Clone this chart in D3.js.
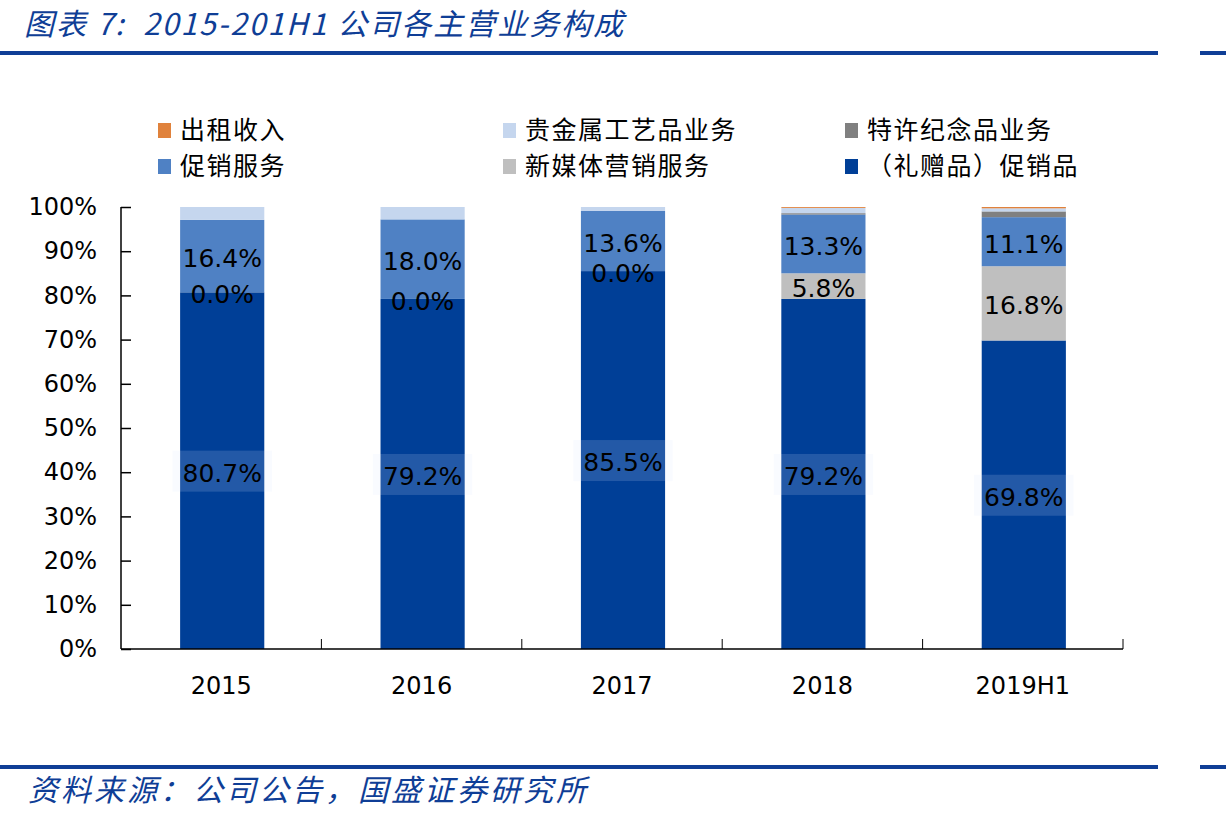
<!DOCTYPE html>
<html>
<head>
<meta charset="utf-8">
<script src="https://cdn.jsdelivr.net/npm/d3@7"></script>
<style>
  body { margin: 0; background: #fff; }
  svg { display: block; }
</style>
</head>
<body>
<div id="chart"></div>
<script>
// categories and series (percent of revenue)
const years = ["2015", "2016", "2017", "2018", "2019H1"];
const giftPromo = [80.7, 79.2, 85.5, 79.2, 69.8];   // （礼赠品）促销品
const newMedia = [0.0, 0.0, 0.0, 5.8, 16.8];        // 新媒体营销服务
const promoService = [16.4, 18.0, 13.6, 13.3, 11.1]; // 促销服务
const licensed = [0, 0, 0, 0.3, 1.3];               // 特许纪念品业务
const metalCraft = [2.9, 2.8, 0.9, 1.2, 0.7];       // 贵金属工艺品业务
const rental = [0, 0, 0, 0.2, 0.3];                 // 出租收入
const yTicks = [0, 10, 20, 30, 40, 50, 60, 70, 80, 90, 100];

// stack order bottom -> top
const seriesList = [
  { key: "gift", name: "（礼赠品）促销品", values: giftPromo, color: "#003F97", label: true, box: true },
  { key: "media", name: "新媒体营销服务", values: newMedia, color: "#BFBFBF", label: true },
  { key: "promo", name: "促销服务", values: promoService, color: "#4F81C4", label: true },
  { key: "lic", name: "特许纪念品业务", values: licensed, color: "#808080" },
  { key: "metal", name: "贵金属工艺品业务", values: metalCraft, color: "#C5D6EE" },
  { key: "rent", name: "出租收入", values: rental, color: "#E0823C" }
];
// legend order as in the picture
const legendOrder = ["rent", "metal", "lic", "promo", "media", "gift"];

const W = 1226, H = 821;
const svg = d3.select("#chart").append("svg")
  .attr("width", W).attr("height", H);

const blue = "#0F3E96";

// header / footer
svg.append("text")
  .attr("x", 24).attr("y", 35)
  .attr("fill", blue)
  .style("font-family", "'Noto Sans CJK SC'")
  .style("font-style", "italic")
  .style("font-size", "30px")
  .style("letter-spacing", "2px")
  .text("图表 7:\u00a0\u00a02015-201H1 公司各主营业务构成");

[53, 767].forEach(y => {
  svg.append("rect").attr("x", 0).attr("y", y - 2).attr("width", 1158).attr("height", 4).attr("fill", blue);
  svg.append("rect").attr("x", 1200).attr("y", y - 2).attr("width", 26).attr("height", 4).attr("fill", blue);
});

svg.append("text")
  .attr("x", 28).attr("y", 801)
  .attr("fill", blue)
  .style("font-family", "'Noto Sans CJK SC'")
  .style("font-style", "italic")
  .style("font-size", "30px")
  .style("letter-spacing", "3px")
  .text("资料来源：公司公告，国盛证券研究所");

// scales
const x = d3.scaleBand().domain(years).range([121, 1123]).padding(0);
const y = d3.scaleLinear().domain([0, 100]).range([649, 207]);
const barW = x.bandwidth() * 0.42;

// stacked data
const table = years.map((yr, i) => {
  const row = { year: yr };
  seriesList.forEach(s => { row[s.key] = s.values[i]; });
  return row;
});
const stacked = d3.stack().keys(seriesList.map(s => s.key))(table);

const g = svg.append("g");
stacked.forEach((layer, li) => {
  const s = seriesList[li];
  g.append("g").selectAll("rect")
    .data(layer)
    .join("rect")
    .attr("x", d => x(d.data.year) + x.bandwidth() / 2 - barW / 2 + 1)
    .attr("y", d => y(d[1]))
    .attr("width", barW)
    .attr("height", d => y(d[0]) - y(d[1]))
    .attr("fill", s.color);
});

// axes
const yAxis = d3.axisLeft(y).tickValues(yTicks).tickSize(-10).tickPadding(24)
  .tickFormat(d => d + "%");
const yg = svg.append("g").attr("transform", "translate(121,0)").call(yAxis);
yg.select(".domain").attr("d", "M0," + y(100) + "V" + y(0));

const xAxis = d3.axisBottom(x).tickSize(0).tickPadding(28);
const xg = svg.append("g").attr("transform", "translate(0,649)").call(xAxis);
xg.select(".domain").attr("d", "M121,0H1123");
const boundaries = years.map(v => x(v) + x.bandwidth());
xg.selectAll(".bnd").data(boundaries).join("line")
  .attr("class", "bnd")
  .attr("x1", d => d).attr("x2", d => d)
  .attr("y1", 0).attr("y2", -10)
  .attr("stroke", "#000");

[yg, xg].forEach(a => {
  a.selectAll(".domain").attr("stroke", "#000").attr("stroke-width", 1.5);
  a.selectAll(".tick line").attr("stroke", "#000").attr("stroke-width", 1.5);
  a.selectAll("text")
    .attr("fill", "#000")
    .style("font-family", "'DejaVu Sans'")
    .style("font-size", "24px");
});
xg.selectAll(".tick text").attr("dy", "0.71em");

// data labels
stacked.forEach((layer, li) => {
  const s = seriesList[li];
  if (!s.label) return;
  layer.forEach(d => {
    const cx = x(d.data.year) + x.bandwidth() / 2 + 1;
    const cy = y((d[0] + d[1]) / 2) + 2;
    const lg = svg.append("g");
    const t = lg.append("text")
      .attr("x", cx).attr("y", cy)
      .attr("text-anchor", "middle")
      .attr("dy", "0.36em")
      .attr("fill", "#000")
      .style("font-family", "'DejaVu Sans'")
      .style("font-size", "25px")
      .text(d3.format(".1f")(d.data[s.key]) + "%");
    if (s.box) {
      const bb = t.node().getBBox();
      lg.insert("rect", "text")
        .attr("x", bb.x - 10).attr("y", bb.y - 8)
        .attr("width", bb.width + 20).attr("height", bb.height + 12)
        .attr("fill", "#dce9ff").attr("opacity", 0.16);
    }
  });
});

// legend
const legendPos = [[158, 130], [503, 130], [845, 130], [158, 166], [503, 166], [845, 166]];
legendOrder.forEach((k, i) => {
  const s = seriesList.find(v => v.key === k);
  const [lx, ly] = legendPos[i];
  svg.append("rect")
    .attr("x", lx).attr("y", ly - 7).attr("width", 13).attr("height", 15)
    .attr("fill", s.color);
  svg.append("text")
    .attr("x", lx + 22).attr("y", ly)
    .attr("dy", "0.36em")
    .attr("fill", "#000")
    .style("font-family", "'Noto Sans CJK SC'")
    .style("font-size", "25px")
    .style("letter-spacing", "1.5px")
    .text(s.name);
});
</script>
</body>
</html>
